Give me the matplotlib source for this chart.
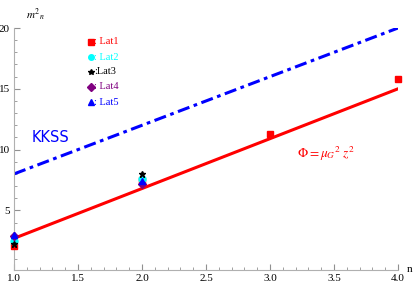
import matplotlib
matplotlib.use("Agg")
import matplotlib.pyplot as plt
from matplotlib.ticker import MultipleLocator
import numpy as np

plt.rcParams['font.family'] = ['Liberation Serif', 'DejaVu Serif']
plt.rcParams['mathtext.fontset'] = 'stix'

# data
n_lat1 = [1, 2, 3, 4]
m2_lat1 = [2.1, 7.5, 11.3, 15.8]
n_lat2 = [1, 2]
m2_lat2 = [2.5, 7.6]
n_lat3 = [1, 2]
m2_lat3 = [2.2, 8.0]
n_lat4 = [1, 2]
m2_lat4 = [2.9, 7.2]
n_lat5 = [1, 2]
m2_lat5 = [3.0, 7.4]

line_n = [1.0, 4.0]
phi_m2 = [2.7, 15.0]
kkss_m2 = [8.0, 20.0]

W, H = 415, 289
fig = plt.figure(figsize=(W/100, H/100), dpi=100)
ax = fig.add_axes([14/W, (H-270)/H, (398-14)/W, (270-28)/H])
ax.set_xlim(1.0, 4.0)
ax.set_ylim(0.1, 20.0)

ax.plot(line_n, kkss_m2, color='#0000ff', lw=2.2, dashes=(4, 1.5, 1.2, 1.5))
ax.plot(line_n, phi_m2, color='#ff0000', lw=2.2)

ms = 5
ax.plot(n_lat1, m2_lat1, 's', color='#ff0000', ms=ms, clip_on=False, zorder=5)
ax.plot(n_lat2, m2_lat2, 'o', color='#00ffff', ms=ms, clip_on=False, zorder=5)
ax.plot(n_lat3, m2_lat3, '*', color='black', ms=ms, clip_on=False, zorder=5)
ax.plot(n_lat4, m2_lat4, 'D', color='#800080', ms=ms-1, clip_on=False, zorder=5)
ax.plot(n_lat5, m2_lat5, '^', color='#0000ff', ms=ms, clip_on=False, zorder=5)

for s in ['top', 'right']:
    ax.spines[s].set_visible(False)
for s in ['left', 'bottom']:
    ax.spines[s].set_color('#b0b0b0')
    ax.spines[s].set_linewidth(0.8)

ax.xaxis.set_major_locator(MultipleLocator(0.5))
ax.xaxis.set_minor_locator(MultipleLocator(0.1))
ax.yaxis.set_major_locator(MultipleLocator(5))
ax.yaxis.set_minor_locator(MultipleLocator(1))
ax.set_yticks([5, 10, 15, 20])
ax.tick_params(which='major', direction='in', length=4, color='#909090', labelsize=8, pad=3)
ax.tick_params(which='minor', direction='in', length=2, color='#909090')
ax.xaxis.set_major_formatter(matplotlib.ticker.FormatStrFormatter('%.1f'))

# axis labels
fig.text(26/W, 1 - 15/H, r'$m^2{}_n$', fontsize=8, ha='left', va='center')
fig.text(407/W, 1 - 270/H, 'n', fontsize=8, ha='left', va='center')

# legend
leg = [('s', '#ff0000', ': Lat1', 42), ('o', '#00ffff', ': Lat2', 57),
       ('*', 'black', ':Lat3', 72), ('D', '#800080', ': Lat4', 87),
       ('^', '#0000ff', ': Lat5', 102)]
for mk, c, lab, yp in leg:
    fig.lines.append(plt.Line2D([91/W], [1 - yp/H], marker=mk, color=c, ms=4,
                                transform=fig.transFigure, ls='none'))
    fig.text(94/W, 1 - yp/H, lab, color=c if c != 'black' else 'black',
             fontsize=7.5, ha='left', va='center')

fig.text(32/W, 1 - 138/H, 'KKSS', color='#0000ff', fontsize=10.5,
         family=['DejaVu Sans'], ha='left', va='center')
fig.text(297/W, 1 - 154/H, r'$\Phi = \mu_G{}^2\ z^2$', color='#ff0000',
         fontsize=9.5, ha='left', va='center')

fig.savefig('out.png', dpi=100)
